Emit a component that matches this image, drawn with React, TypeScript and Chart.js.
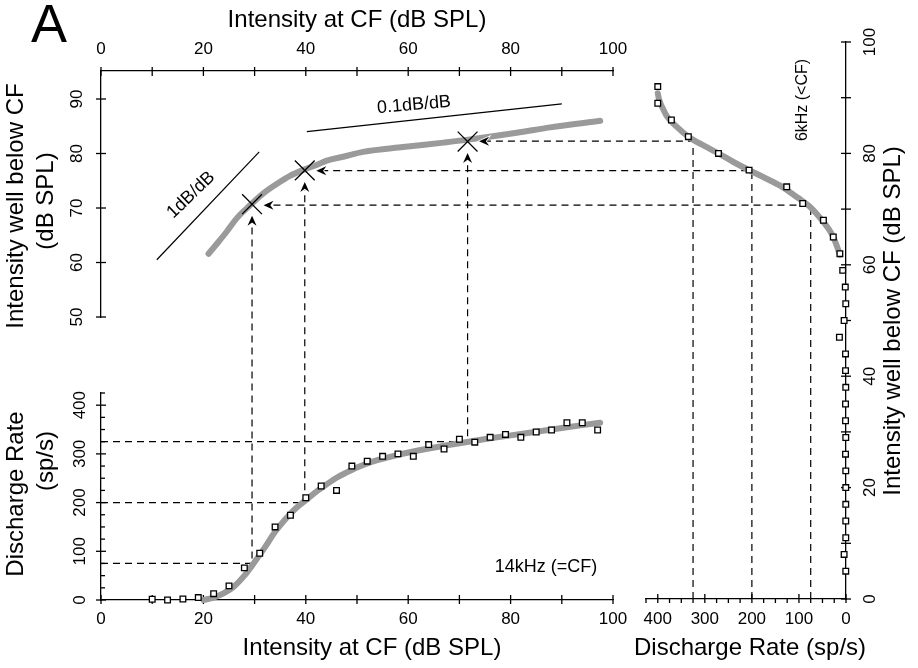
import React, { useEffect, useRef } from 'react';
import { Chart, registerables } from 'chart.js';

Chart.register(...registerables);

const W = 918;
const H = 668;
const FONT = '"Liberation Sans", Arial, Helvetica, sans-serif';
Chart.defaults.font.family = FONT;

// ---------- 14 kHz (=CF) rate-intensity function (bottom-left panel)
const cfLevels = [10, 13, 16, 19, 22, 25, 28, 31, 34, 37, 40, 43, 46, 49, 52, 55, 58, 61, 64, 67, 70, 73, 76, 79, 82, 85, 88, 91, 94, 97];
const cfRates = [1.5, 0, 2, 5, 13, 29, 66, 96, 150, 174, 210, 234, 225, 275, 285, 295, 300, 295, 319, 310, 330, 324, 334, 340, 334, 345, 349, 364, 364, 349];
const cfFitLevels = [20, 22, 24, 26, 28, 30, 32, 34, 36, 38, 40, 42, 44, 46, 48, 50, 53, 58, 64, 70, 76, 82, 88, 94, 97.5];
const cfFitRates = [0, 5, 14, 28, 50, 78, 108, 140, 166, 188, 205, 222, 237, 251, 262, 272, 284, 298, 311, 322, 332, 341, 350, 359, 364];

// ---------- 6 kHz (<CF) rate-intensity function (right panel)
const offLevels = [5, 8, 11, 14, 17, 20, 23, 26, 29, 32, 35, 38, 41, 44, 47, 50, 53, 56, 59, 62, 65, 68, 71, 74, 77, 80, 83, 86, 89, 92];
const offRates = [0.5, 4, 0.5, 0.5, 0.5, 0.5, 0.5, 1, 0.5, 1, 1, 0.5, 1, 1, 14, 4, 0.5, 1.5, 7, 13, 27, 48, 92, 126, 206, 271, 335, 371, 400, 400];
const offFitRates = [13, 20, 27, 36, 48, 65, 75, 90, 110, 140, 170, 206, 240, 271, 300, 335, 360, 380, 390, 397, 400];
const offFitLevels = [61.8, 63.5, 65.0, 66.3, 67.7, 69.4, 70.3, 71.3, 72.5, 74.2, 75.5, 77.0, 78.5, 80.0, 81.3, 83.0, 84.8, 86.6, 88.2, 89.6, 90.8];

// ---------- Input-output function (top-left panel)
const ioFitCF = [21.0, 22.6, 24.5, 26.5, 29.1, 31.7, 34.3, 36.9, 39.5, 42.1, 44.1, 47.3, 51.2, 59.0, 66.9, 71.4, 81.2, 87.7, 97.5];
const ioFitOff = [61.6, 63.4, 65.6, 68.1, 70.5, 72.7, 74.4, 75.9, 77.0, 77.9, 78.7, 79.4, 80.3, 81.2, 82.0, 82.5, 83.8, 84.8, 86.0];
const slope1CF = [10.9, 30.9];
const slope1Off = [60.5, 80.3];
const slope01CF = [40.2, 90.0];
const slope01Off = [84.0, 89.1];

// ---------- Matched rates (dashed construction lines)
const matchRates = [75, 200, 325];
const matchCF = [29.5, 39.8, 71.6];
const matchOff = [70.7, 76.9, 82.2];

// ---------- Ticks
const cfTicks = [0, 10, 20, 30, 40, 50, 60, 70, 80, 90, 100];
const cfTickLabels = [0, 20, 40, 60, 80, 100];
const ioTicks = [50, 60, 70, 80, 90];
const rateTicks = [0, 25, 50, 75, 100, 125, 150, 175, 200, 225, 250, 275, 300, 325, 350, 375, 400, 425];
const rateTickLabels = [0, 100, 200, 300, 400];
const offTicks = [0, 10, 20, 30, 40, 50, 60, 70, 80, 90, 100];
const offTickLabels = [0, 20, 40, 60, 80, 100];

const GRAY = '#9a9a9a';
const ARROW_GAP = 11.5;
const ARROW_LEN = 10;
const ARROW_W = 9;
const AX_H = 50; // fixed height of horizontal axis boxes
const AX_W = 60; // fixed width of vertical axis boxes

const pts = (xs: number[], ys: number[]) => xs.map((x, i) => ({ x, y: ys[i] }));

function linAxis(o: {
  position: string; min: number; max: number; ticks: number[]; labels: number[];
  reverse?: boolean; rot: number; pad: number; crossAlign?: string;
}): any {
  return {
    type: 'linear',
    position: o.position,
    min: o.min,
    max: o.max,
    reverse: !!o.reverse,
    afterBuildTicks: (s: any) => {
      s.ticks = o.ticks.map((v) => ({ value: v }));
    },
    afterFit: (s: any) => {
      if (s.isHorizontal()) s.height = AX_H;
      else s.width = AX_W;
      s.paddingLeft = 0;
      s.paddingRight = 0;
      s.paddingTop = 0;
      s.paddingBottom = 0;
    },
    grid: { display: true, drawOnChartArea: false, drawTicks: false },
    border: { display: true, color: '#000', width: 1.3 },
    ticks: {
      autoSkip: false,
      color: '#000',
      font: { family: FONT, size: 17 },
      padding: o.pad,
      minRotation: o.rot,
      maxRotation: o.rot,
      crossAlign: o.crossAlign || 'near',
      callback: (v: any) => (o.labels.includes(Number(v)) ? String(v) : ''),
    },
  };
}

type TickSpec = { id: string; out: number; inn: number; minorOut: number; minorIn: number; majors: number[] };

function tickPlugin(specs: TickSpec[]) {
  return {
    id: 'tickMarks',
    beforeDatasetsDraw(chart: any) {
      const ctx = chart.ctx;
      ctx.save();
      ctx.strokeStyle = '#000';
      ctx.lineWidth = 1.3;
      ctx.setLineDash([]);
      specs.forEach((sp) => {
        const s = chart.scales[sp.id];
        const pos = s.options.position;
        const horiz = s.isHorizontal();
        const base = pos === 'left' ? s.right : pos === 'right' ? s.left : pos === 'top' ? s.bottom : s.top;
        const sign = pos === 'left' || pos === 'top' ? -1 : 1;
        s.ticks.forEach((t: any) => {
          const major = sp.majors.includes(t.value);
          const o = major ? sp.out : sp.minorOut;
          const n = major ? sp.inn : sp.minorIn;
          const p = s.getPixelForValue(t.value);
          ctx.beginPath();
          if (horiz) {
            ctx.moveTo(p, base + sign * o);
            ctx.lineTo(p, base - sign * n);
          } else {
            ctx.moveTo(base + sign * o, p);
            ctx.lineTo(base - sign * n, p);
          }
          ctx.stroke();
        });
      });
      ctx.restore();
    },
  };
}

type TextSpec = { text: string; x: number; y: number; rot?: number; size: number };

function textPlugin(items: TextSpec[]) {
  return {
    id: 'texts',
    afterDraw(chart: any) {
      const ctx = chart.ctx;
      items.forEach((it) => {
        ctx.save();
        ctx.translate(it.x, it.y);
        ctx.rotate(((it.rot || 0) * Math.PI) / 180);
        ctx.font = `${it.size}px ${FONT}`;
        ctx.fillStyle = '#000';
        ctx.textAlign = 'center';
        ctx.textBaseline = 'middle';
        ctx.fillText(it.text, 0, 0);
        ctx.restore();
      });
    },
  };
}

function drawArrow(ctx: CanvasRenderingContext2D, x: number, y: number, angle: number) {
  ctx.save();
  ctx.translate(x, y);
  ctx.rotate(angle);
  ctx.beginPath();
  ctx.moveTo(0, 0);
  ctx.lineTo(-ARROW_LEN, -ARROW_W / 2);
  ctx.lineTo(-ARROW_LEN * 0.68, 0);
  ctx.lineTo(-ARROW_LEN, ARROW_W / 2);
  ctx.closePath();
  ctx.setLineDash([]);
  ctx.lineWidth = 1.6;
  ctx.strokeStyle = '#fff';
  ctx.stroke();
  ctx.fillStyle = '#000';
  ctx.fill();
  ctx.restore();
}

// area = wanted chart area; sides = which sides carry an axis box
function baseOptions(
  area: { l: number; t: number; r: number; b: number },
  sides: { l?: boolean; t?: boolean; r?: boolean; b?: boolean },
  scales: any,
) {
  return {
    responsive: false,
    animation: false as const,
    events: [] as any[],
    layout: {
      padding: {
        left: area.l - (sides.l ? AX_W : 0),
        top: area.t - (sides.t ? AX_H : 0),
        right: W - area.r - (sides.r ? AX_W : 0),
        bottom: H - area.b - (sides.b ? AX_H : 0),
      },
    },
    plugins: { legend: { display: false }, tooltip: { enabled: false }, title: { display: false } },
    scales,
  };
}

const squareStyle = {
  pointStyle: 'rect',
  pointRadius: 4,
  pointBackgroundColor: '#fff',
  pointBorderColor: '#000',
  pointBorderWidth: 1.3,
  showLine: false,
  clip: false,
};

const grayLine = {
  showLine: true,
  pointRadius: 0,
  borderColor: GRAY,
  borderWidth: 6,
  borderCapStyle: 'round',
  borderJoinStyle: 'round',
  cubicInterpolationMode: 'monotone',
  clip: false,
};

export default function App() {
  const blRef = useRef<HTMLCanvasElement>(null);
  const rtRef = useRef<HTMLCanvasElement>(null);
  const tlRef = useRef<HTMLCanvasElement>(null);

  useEffect(() => {
    const refs: { tl?: any; rt?: any } = {};

    const connectorPlugin = {
      id: 'connectors',
      beforeDatasetsDraw(chart: any) {
        const { tl, rt } = refs;
        if (!tl || !rt) return;
        const ctx = chart.ctx;
        const bx = chart.scales.x;
        const by = chart.scales.y;
        const tx = tl.scales.x;
        const ty = tl.scales.y;
        const rx = rt.scales.x;
        const ry = rt.scales.y;
        ctx.save();
        ctx.strokeStyle = '#000';
        ctx.lineWidth = 1.2;
        ctx.setLineDash([7, 5]);
        matchRates.forEach((rate, i) => {
          const cx = bx.getPixelForValue(matchCF[i]);
          const yRate = by.getPixelForValue(rate);
          const yMark = ty.getPixelForValue(matchOff[i]);
          ctx.beginPath();
          ctx.moveTo(bx.getPixelForValue(bx.min), yRate);
          ctx.lineTo(cx, yRate);
          ctx.lineTo(cx, yMark + ARROW_GAP + ARROW_LEN - 2);
          ctx.stroke();
          const rxp = rx.getPixelForValue(rate);
          const yOff = ry.getPixelForValue(matchOff[i]);
          ctx.beginPath();
          ctx.moveTo(rxp, ry.getPixelForValue(ry.min));
          ctx.lineTo(rxp, yOff);
          ctx.lineTo(tx.getPixelForValue(matchCF[i]) + ARROW_GAP + ARROW_LEN - 2, yOff);
          ctx.stroke();
        });
        ctx.restore();
      },
    };

    const bl = new Chart(blRef.current as HTMLCanvasElement, {
      type: 'scatter',
      data: {
        datasets: [
          { ...squareStyle, order: 0, data: pts(cfLevels, cfRates) } as any,
          { ...grayLine, order: 1, data: pts(cfFitLevels, cfFitRates) } as any,
        ],
      },
      options: baseOptions({ l: 101, t: 393, r: 613, b: 600 }, { l: true, b: true }, {
        x: linAxis({ position: 'bottom', min: 0, max: 100, ticks: cfTicks, labels: cfTickLabels, rot: 0, pad: 9 }),
        y: linAxis({ position: 'left', min: 0, max: 425, ticks: rateTicks, labels: rateTickLabels, rot: 90, pad: 7, crossAlign: 'center' }),
      }) as any,
      plugins: [
        connectorPlugin,
        tickPlugin([
          { id: 'x', out: 4, inn: 5, minorOut: 4, minorIn: 5, majors: cfTicks },
          { id: 'y', out: 5, inn: 5, minorOut: 0, minorIn: 4, majors: rateTickLabels },
        ]),
        textPlugin([
          { text: 'Discharge Rate', x: 16, y: 494, rot: -90, size: 24 },
          { text: '(sp/s)', x: 46, y: 461, rot: -90, size: 24 },
          { text: 'Intensity at CF (dB SPL)', x: 372, y: 648, size: 24 },
          { text: '14kHz (=CF)', x: 546, y: 567, size: 18 },
        ]),
      ],
    });

    const rt = new Chart(rtRef.current as HTMLCanvasElement, {
      type: 'scatter',
      data: {
        datasets: [
          { ...squareStyle, order: 0, data: pts(offRates, offLevels) } as any,
          { ...grayLine, order: 1, data: pts(offFitRates, offFitLevels) } as any,
        ],
      },
      options: baseOptions({ l: 646, t: 42, r: 846, b: 599 }, { r: true, b: true }, {
        x: linAxis({ position: 'bottom', min: 0, max: 425, reverse: true, ticks: rateTicks, labels: rateTickLabels, rot: 0, pad: 10 }),
        y: linAxis({ position: 'right', min: 0, max: 100, ticks: offTicks, labels: offTickLabels, rot: 90, pad: 10, crossAlign: 'center' }),
      }) as any,
      plugins: [
        tickPlugin([
          { id: 'x', out: 4, inn: 5, minorOut: 4, minorIn: 0, majors: rateTickLabels },
          { id: 'y', out: 5, inn: 5, minorOut: 5, minorIn: 5, majors: offTicks },
        ]),
        textPlugin([
          { text: 'Discharge Rate (sp/s)', x: 750, y: 648, size: 24 },
          { text: 'Intensity well below CF (dB SPL)', x: 893, y: 321, rot: -90, size: 24 },
          { text: '6kHz (<CF)', x: 803, y: 100, rot: -90, size: 16 },
        ]),
      ],
    });

    const arrowPlugin = {
      id: 'arrows',
      afterDatasetsDraw(chart: any) {
        const ctx = chart.ctx;
        const tx = chart.scales.x;
        const ty = chart.scales.y;
        const ry = rt.scales.y;
        matchCF.forEach((c, i) => {
          const mx = tx.getPixelForValue(c);
          const my = ty.getPixelForValue(matchOff[i]);
          const yOff = ry.getPixelForValue(matchOff[i]);
          drawArrow(ctx, mx, my + ARROW_GAP, -Math.PI / 2);
          drawArrow(ctx, mx + ARROW_GAP, yOff, Math.PI);
        });
      },
    };

    const tl = new Chart(tlRef.current as HTMLCanvasElement, {
      type: 'scatter',
      data: {
        datasets: [
          {
            order: 0,
            data: pts(matchCF, matchOff),
            showLine: false,
            pointStyle: 'crossRot',
            pointRadius: 14,
            pointBorderColor: '#000',
            pointBorderWidth: 1.3,
            clip: false,
          } as any,
          { ...grayLine, order: 1, data: pts(ioFitCF, ioFitOff) } as any,
          { order: 2, data: pts(slope1CF, slope1Off), showLine: true, pointRadius: 0, borderColor: '#000', borderWidth: 1.2, clip: false } as any,
          { order: 2, data: pts(slope01CF, slope01Off), showLine: true, pointRadius: 0, borderColor: '#000', borderWidth: 1.2, clip: false } as any,
        ],
      },
      options: baseOptions({ l: 101, t: 71, r: 613, b: 317 }, { l: true, t: true }, {
        x: linAxis({ position: 'top', min: 0, max: 100, ticks: cfTicks, labels: cfTickLabels, rot: 0, pad: 11 }),
        y: linAxis({ position: 'left', min: 50, max: 95.14, ticks: ioTicks, labels: ioTicks, rot: 90, pad: 14, crossAlign: 'center' }),
      }) as any,
      plugins: [
        tickPlugin([
          { id: 'x', out: 4, inn: 5, minorOut: 4, minorIn: 5, majors: cfTicks },
          { id: 'y', out: 5, inn: 5, minorOut: 5, minorIn: 5, majors: ioTicks },
        ]),
        arrowPlugin,
        textPlugin([
          { text: 'A', x: 49, y: 27, size: 54 },
          { text: 'Intensity at CF (dB SPL)', x: 357, y: 20, size: 24 },
          { text: 'Intensity well below CF', x: 16, y: 206, rot: -90, size: 24 },
          { text: '(dB SPL)', x: 46, y: 201, rot: -90, size: 24 },
          { text: '1dB/dB', x: 191, y: 195, rot: -44, size: 18 },
          { text: '0.1dB/dB', x: 414, y: 105, rot: -5, size: 18 },
        ]),
      ],
    });

    refs.tl = tl;
    refs.rt = rt;
    bl.update();

    return () => {
      tl.destroy();
      rt.destroy();
      bl.destroy();
    };
  }, []);

  const cv: React.CSSProperties = { position: 'absolute', left: 0, top: 0 };
  return (
    <div style={{ position: 'absolute', left: 0, top: 0, width: W, height: H, background: '#fff' }}>
      <canvas ref={blRef} width={W} height={H} style={cv} />
      <canvas ref={rtRef} width={W} height={H} style={cv} />
      <canvas ref={tlRef} width={W} height={H} style={cv} />
    </div>
  );
}
